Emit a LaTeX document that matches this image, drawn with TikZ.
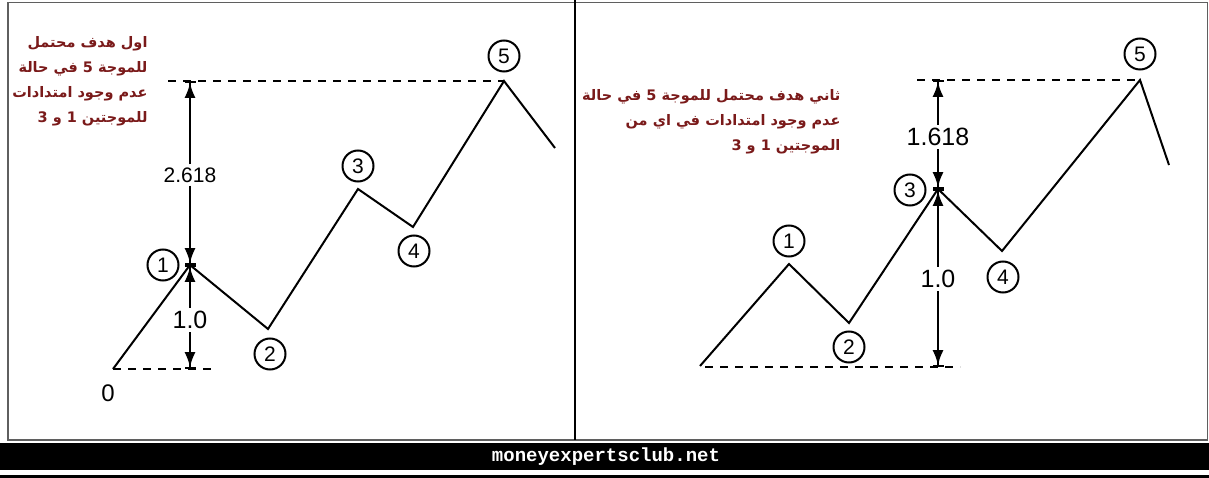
\documentclass[tikz,border=0pt]{standalone}
\usepackage{fontspec}
\setmainfont{Liberation Sans}
\newfontfamily\arabicfont[Script=Arabic]{DejaVu Sans}
\newfontfamily\sitefont{Liberation Mono}
\TeXXeTstate=1
\usetikzlibrary{arrows.meta,positioning}
\definecolor{maroon}{RGB}{122,26,26}
\definecolor{frame}{RGB}{95,95,95}
\tikzset{
  wave/.style={line width=2pt,line join=miter},
  guide/.style={line width=2.4pt,dash pattern=on 8pt off 7pt},
  dim/.style={line width=2.2pt,-{Latex[length=15pt,width=11pt]Bar[width=11pt,line width=1.8pt]}},
  count/.style={circle,draw,line width=2pt,minimum size=31pt,inner sep=0pt,
    font=\fontsize{21}{21}\selectfont},
  ratio/.style={fill=white,inner sep=3pt,font=\fontsize{#1}{#1}\selectfont},
  ratio/.default=21,
  note/.style={text=maroon,align=right,font=\arabicfont\bfseries\fontsize{14.5}{25}\selectfont},
}
\begin{document}
\begin{tikzpicture}[x=1pt,y=-1pt]
  \useasboundingbox (0,0) rectangle (1209,478);
  % frame
  \draw[frame,line width=1.2pt] (8,2.5) rectangle (1207.5,440);
  \draw[line width=2.5pt] (575,0) -- (575,440);
  \fill[black] (0,443) rectangle (1209,470);
  \fill[black] (0,475) rectangle (1209,478);
  \node[text=white,font=\sitefont\bfseries\fontsize{19}{19}\selectfont] (site) at (606,457) {moneyexpertsclub.net};

  % left: target 2.618
  \coordinate (a0) at (113,369);
  \coordinate (a1) at (190,265);
  \coordinate (a2) at (268,329);
  \coordinate (a3) at (358,189);
  \coordinate (a4) at (413,227);
  \coordinate (a5) at (504,81);
  \coordinate (a6) at (555,148);
  \coordinate (atop) at (168,81);
  \coordinate (atick) at (190,81);
  \coordinate (abase) at (190,369);
  \coordinate (aend) at (213,369);
  \draw[wave] (a0) -- (a1) -- (a2) -- (a3) -- (a4) -- (a5) -- (a6);
  \draw[guide] (atop) -- (a5);
  \draw[guide] (a0) -- (aend);
  \node[count] (l1) at (163,265) {1};
  \node[count] (l2) at (270,354) {2};
  \node[count] (l3) at (358,166) {3};
  \node[count] (l4) at (414,251) {4};
  \node[count] (l5) at (504,56) {5};
  \node[font=\fontsize{24}{24}\selectfont] (l0) at (108,393) {0};
  \node[ratio] (lr) at (190,175) {2.618};
  \draw[dim] (lr) -- (atick);
  \draw[dim] (lr) -- (a1);
  \node[ratio=25] (lu) at (190,320) {1.0};
  \draw[dim] (lu) -- (a1);
  \draw[dim] (lu) -- (abase);
  \node[note,anchor=east] (lnote) at (151,81)
    {\beginR اول هدف محتمل\endR\\
     \beginR للموجة 5 في حالة\endR\\
     \beginR عدم وجود امتدادات\endR\\
     \beginR للموجتين 1 و 3\endR};

  % right: target 1.618
  \coordinate (b0) at (700,366);
  \coordinate (b1) at (789,264);
  \coordinate (b2) at (849,323);
  \coordinate (b3) at (938,189);
  \coordinate (b4) at (1002,251);
  \coordinate (b5) at (1140,80);
  \coordinate (b6) at (1169,165);
  \coordinate (btop) at (917,80);
  \coordinate (btick) at (938,80);
  \coordinate (bbase) at (938,367);
  \coordinate (bstart) at (705,367);
  \coordinate (bend) at (960,367);
  \draw[wave] (b0) -- (b1) -- (b2) -- (b3) -- (b4) -- (b5) -- (b6);
  \draw[guide] (btop) -- (b5);
  \draw[guide] (bstart) -- (bend);
  \node[count] (r1) at (789,241) {1};
  \node[count] (r2) at (849,347) {2};
  \node[count] (r3) at (910,190) {3};
  \node[count] (r4) at (1003,277) {4};
  \node[count] (r5) at (1140,54) {5};
  \node[ratio=25] (rr) at (938,137) {1.618};
  \draw[dim] (rr) -- (btick);
  \draw[dim] (rr) -- (b3);
  \node[ratio=25] (ru) at (938,279) {1.0};
  \draw[dim] (ru) -- (b3);
  \draw[dim] (ru) -- (bbase);
  \node[note,anchor=east] (rnote) at (844,122)
    {\beginR ثاني هدف محتمل للموجة 5 في حالة\endR\\
     \beginR عدم وجود امتدادات في اي من\endR\\
     \beginR الموجتين 1 و 3\endR};
\end{tikzpicture}
\end{document}
